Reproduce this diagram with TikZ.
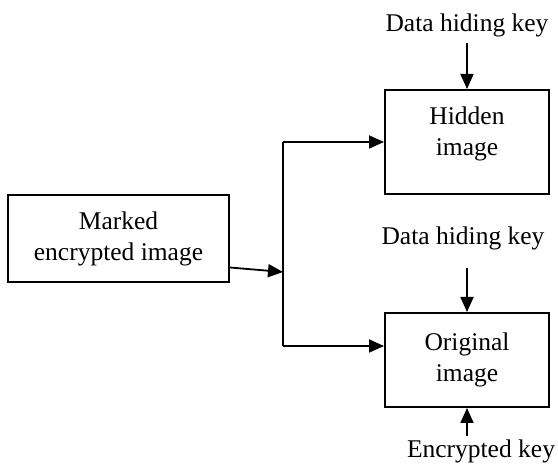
\documentclass[tikz,border=0pt]{standalone}
\usepackage{fontspec}
\setmainfont{Liberation Serif}
\usetikzlibrary{arrows.meta,positioning}

\tikzset{
  block/.style={draw, line width=2pt, align=center, inner sep=0pt,
    font=\fontsize{25.5}{31}\selectfont},
  keylabel/.style={inner sep=0pt, align=center, font=\fontsize{25.5}{31}\selectfont},
  wire/.style={line width=1.8pt},
  arr/.style={wire, -{Triangle[length=15pt,width=13pt]}},
}

\begin{document}
\begin{tikzpicture}[x=1pt,y=-1pt]
  \useasboundingbox (0,0) rectangle (558,465);

  % boxes
  \node[block, minimum width=221pt, minimum height=87pt] (marked) at (118.5,238.5) {Marked\\encrypted image};
  \node[block, minimum width=164pt, minimum height=104pt] (hidden) at (467,142) {};
  \node[keylabel] (hiddentext) at ([yshift=8pt]hidden.center) {Hidden\\image}; % text sits high in the box
  \node[block, minimum width=164pt, minimum height=94pt] (orig) at (467,360) {Original\\image};

  % keys
  \node[keylabel, anchor=base] (dhk1) at (467,32) {Data hiding key};
  \node[keylabel, anchor=base] (dhk2) at (463,245) {Data hiding key};
  \node[keylabel, anchor=base] (enck) at (481,458) {Encrypted key};

  % split point and branches
  \coordinate (split) at (283,272);
  \coordinate (up) at (283,142);
  \coordinate (down) at (283,346);
  \draw[arr] ([yshift=-29pt]marked.east) -- (split);
  \draw[wire] (up) -- (down);
  \draw[arr] (up) -- (hidden.west);
  \draw[arr] (down) -- (down -| orig.west);

  % key arrows
  \draw[arr] ([yshift=-5.5pt]dhk1.south -| hidden.north) -- (hidden.north);
  \draw[arr] ([yshift=-17.5pt]dhk2.south -| orig.north) -- (orig.north);
  \draw[arr] ([yshift=4pt]enck.north -| orig.south) -- (orig.south);
\end{tikzpicture}
\end{document}
